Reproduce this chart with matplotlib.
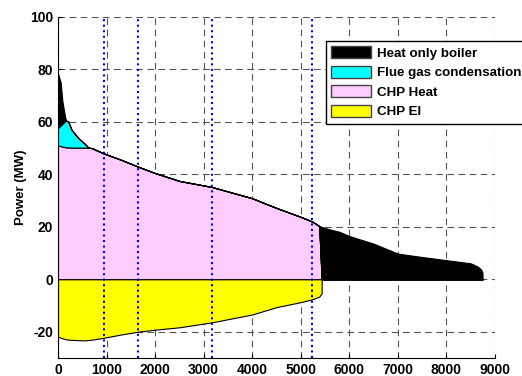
import matplotlib.pyplot as plt
from matplotlib.patches import Patch
import numpy as np

plt.rcParams['font.family'] = ['Liberation Sans', 'DejaVu Sans']
plt.rcParams['font.weight'] = 'bold'
plt.rcParams['axes.unicode_minus'] = False

# Varaktighetsdiagram, timmar 0-8760
timmar = [0, 55, 90, 145, 165, 210, 280, 420, 555, 625, 700, 940, 1310, 1640,
          2000, 2500, 3170, 4000, 4500, 5000, 5240, 5380, 5430, 5600, 5800,
          6000, 6500, 7000, 7500, 8000, 8500, 8650, 8710, 8740, 8745]
chp_varme = [51, 50.8, 50.6, 50.4, 50.3, 50.3, 50.2, 50.2, 50.2, 50.2, 50, 48,
             45.5, 43, 40.5, 37.5, 35.2, 30.9, 27.2, 23.8, 22, 20.3, 0, 0, 0,
             0, 0, 0, 0, 0, 0, 0, 0, 0, 0]
rokgas = [6.7, 7.8, 8.7, 9.8, 10.2, 9.9, 6.8, 3.6, 1.4, 0, 0, 0, 0, 0,
          0, 0, 0, 0, 0, 0, 0, 0, 0, 0, 0,
          0, 0, 0, 0, 0, 0, 0, 0, 0, 0]
hvp = [20.8, 16.4, 8.7, 1.8, 0, 0, 0, 0, 0, 0, 0, 0, 0, 0,
       0, 0, 0, 0, 0, 0, 0, 0, 20, 19, 18.1,
       16.5, 13.6, 9.8, 8.5, 7.3, 6.1, 4.8, 3.8, 2.8, 0]

el_timmar = [0, 55, 165, 280, 555, 700, 940, 1310, 1640, 2000, 2500, 3170,
             4000, 4500, 5000, 5240, 5380, 5430]
chp_el = [-21.8, -22.3, -22.9, -23.1, -23.3, -23.0, -22.3, -21.0, -20.0, -19.2,
          -18.3, -16.4, -13.4, -10.6, -8.7, -7.6, -6.6, -5.3]

driftfall = [940, 1640, 3170, 5240]

t = np.array(timmar)
lager1 = np.array(chp_varme)
lager2 = lager1 + np.array(rokgas)
lager3 = lager2 + np.array(hvp)

fig = plt.figure(figsize=(5.22, 3.76), dpi=100)
ax = fig.add_axes([58/522, 18/376, 437/522, 341/376])

ax.fill_between(t, 0, lager1, facecolor='#ffccff', edgecolor='k', lw=0.8, zorder=2)
ax.fill_between(t, lager1, lager2, facecolor='#00ffff', edgecolor='k', lw=0.8, zorder=2)
ax.fill_between(t, lager2, lager3, facecolor='k', edgecolor='k', lw=0.8, zorder=2)
ax.fill_between(el_timmar, chp_el, 0, facecolor='#ffff00', edgecolor='k', lw=0.8, zorder=2)

for x in driftfall:
    ax.axvline(x, color='blue', ls=':', lw=1.5, zorder=3)

ax.set_xlim(0, 9000)
ax.set_ylim(-30, 100)
ax.set_xticks(range(0, 9001, 1000))
ax.set_yticks(range(-20, 101, 20))
ax.grid(True, ls=(0, (6, 4)), color='#555555', lw=0.8)
ax.set_axisbelow(True)
ax.spines['top'].set_visible(False)
ax.spines['right'].set_visible(False)
ax.tick_params(direction='in', labelsize=10, length=3)
for lbl in ax.get_xticklabels() + ax.get_yticklabels():
    lbl.set_fontweight('bold')
ax.set_ylabel('Power (MW)', fontsize=9.5, fontweight='bold', labelpad=2)

handtag = [Patch(facecolor='k', edgecolor='#444444', label='Heat only boiler'),
           Patch(facecolor='#00ffff', edgecolor='#444444', label='Flue gas condensation'),
           Patch(facecolor='#ffccff', edgecolor='#444444', label='CHP Heat'),
           Patch(facecolor='#ffff00', edgecolor='#444444', label='CHP El')]
leg = ax.legend(handles=handtag, loc='upper left', bbox_to_anchor=(0.613, 0.93),
                prop={'size': 9.6, 'weight': 'bold'}, fancybox=False,
                framealpha=1, edgecolor='k', borderaxespad=0, handlelength=3.0,
                handleheight=1.0, labelspacing=0.45, borderpad=0.4,
                handletextpad=0.4)
leg.get_frame().set_linewidth(1.0)
leg.set_zorder(5)

fig.savefig('out.png', dpi=100)
